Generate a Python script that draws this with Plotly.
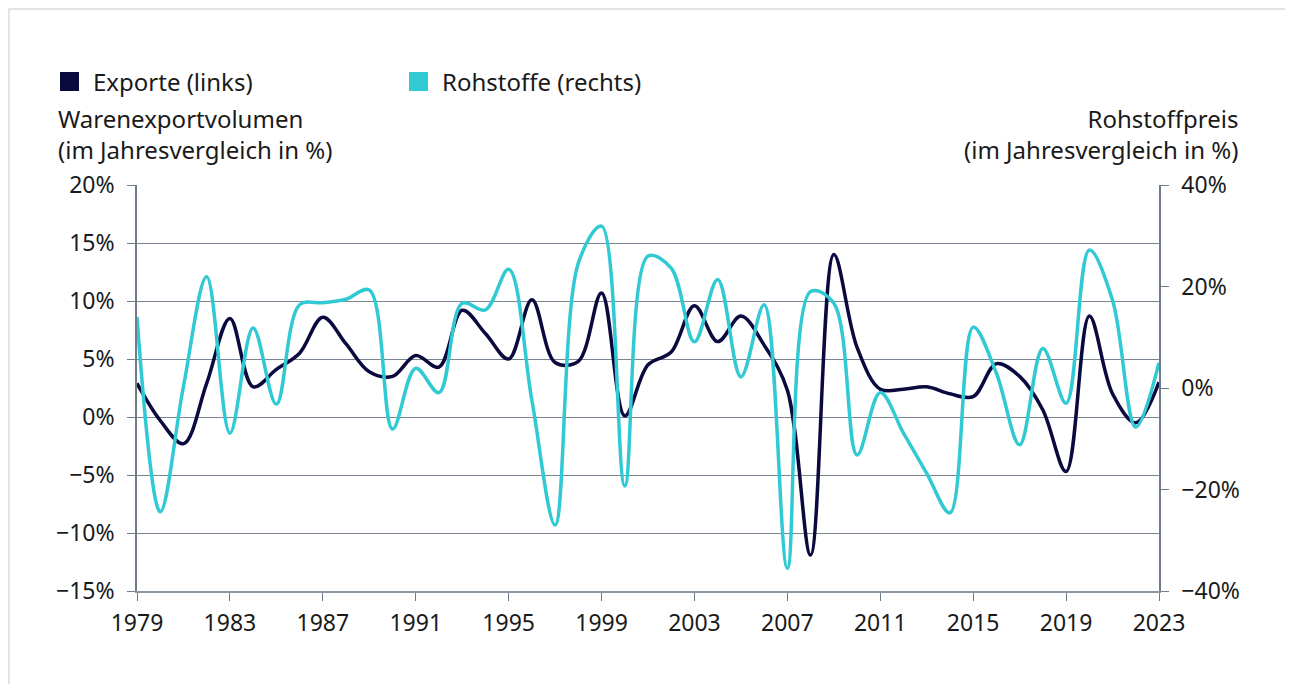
import plotly.graph_objects as go

years = list(range(1979, 2024))
exporte = [2.9, -0.3, -2.3, 2.9, 8.5, 2.6, 4.1, 5.5, 8.6, 6.3, 3.9, 3.5, 5.3, 4.3, 9.2, 7.2,
           5.0, 10.1, 4.7, 4.8, 10.7, 0.1, 4.5, 5.6, 9.6, 6.5, 8.7, 6.2, 2.3, -11.9, 14.0, 6.0,
           2.4, 2.4, 2.6, 2.0, 1.75, 4.6, 3.5, 0.6, -4.7, 8.7, 2.0, -0.5, 3.0]
rohstoffe = [14.0, -24.4, 0.3, 21.9, -8.9, 11.8, -3.2, 16.4, 16.8, 17.5, 19.3, -8.1, 3.9, -0.9, 16.7, 15.4,
             23.4, -2.4, -27.0, 24.6, 31.9, -19.3, 26.0, 23.6, 9.1, 21.4, 2.2, 16.4, -35.5, 19.0, 16.7, -13.2,
             -0.9, -8.9, -16.8, -24.6, 12.0, 2.9, -11.2, 7.8, -3.0, 27.2, 17.3, -7.7, 5.0]
x_ticks = list(range(1979, 2024, 4))
left_ticks = [-15, -10, -5, 0, 5, 10, 15, 20]
right_ticks = [-40, -20, 0, 20, 40]
series_names = ["Exporte (links)", "Rohstoffe (rechts)"]

def pct(v):
    return (f"\u2212{abs(v)}" if v < 0 else f"{v}") + "%"

DARK = "#0b0a3f"
CYAN = "#31c9d3"
FONT = "Noto Sans"
AXIS = "#6f7b87"
TXT = "#1a1a1a"
FS_TICK = 23
FS_TXT = 24

# page has an 8px body margin; size the figure so the plot lands where the reference has it
OFF = 8
W, H = 1293 - OFF, 684 - OFF
PL, PR, PT, PB = 137, 1159, 185, 591  # plot area in screen pixels
L = PL - OFF
T = PT - OFF
R = W - (PR - OFF)
B = H - (PB - OFF)
pw, ph = PR - PL, PB - PT

def px(xp):
    return (xp - PL) / pw

def py(yp):
    return (PB - yp) / ph

fig = go.Figure()
fig.add_trace(go.Scatter(x=years, y=exporte, mode="lines", name=series_names[0],
                         line=dict(color=DARK, width=3.5, shape="spline", smoothing=1.0),
                         showlegend=False, yaxis="y"))
fig.add_trace(go.Scatter(x=years, y=rohstoffe, mode="lines", name=series_names[1],
                         line=dict(color=CYAN, width=3.5, shape="spline", smoothing=1.0),
                         showlegend=False, yaxis="y2"))

shapes = [
    dict(type="rect", xref="paper", yref="paper", x0=px(9), x1=px(1287), y0=py(700), y1=py(9),
         line=dict(color="#d5dbe1", width=1.5), fillcolor="rgba(0,0,0,0)", layer="below"),
]
annotations = [
    dict(text="Warenexportvolumen<br>(im Jahresvergleich in %)", xref="paper", yref="paper",
         x=px(56), y=py(134), xanchor="left", yanchor="middle", align="left", showarrow=False,
         font=dict(family=FONT, size=FS_TXT, color=TXT)),
    dict(text="Rohstoffpreis<br>(im Jahresvergleich in %)", xref="paper", yref="paper",
         x=px(1240), y=py(134), xanchor="right", yanchor="middle", align="right", showarrow=False,
         font=dict(family=FONT, size=FS_TXT, color=TXT)),
]
# legend (square swatches + labels)
for name, col, sx in zip(series_names, [DARK, CYAN], [60, 409]):
    shapes.append(dict(type="rect", xref="paper", yref="paper", x0=px(sx), x1=px(sx + 19),
                       y0=py(91), y1=py(72), line=dict(width=0), fillcolor=col))
    annotations.append(dict(text=name, xref="paper", yref="paper", x=px(sx + 31), y=py(81),
                            xanchor="left", yanchor="middle", showarrow=False,
                            font=dict(family=FONT, size=FS_TXT, color=TXT)))

fig.update_layout(
    width=W, height=H,
    margin=dict(l=L, r=R, t=T, b=B, autoexpand=False),
    paper_bgcolor="white", plot_bgcolor="white",
    font=dict(family=FONT, size=FS_TICK, color=TXT),
    showlegend=False,
    xaxis=dict(range=[1979, 2023], tickmode="array", tickvals=x_ticks,
               ticktext=[str(v) for v in x_ticks], ticks="outside", ticklen=8,
               tickcolor=AXIS, showgrid=False, showline=True, linecolor="#8c96a0", linewidth=2,
               zeroline=False, tickfont=dict(size=FS_TICK), ticklabelstandoff=2),
    yaxis=dict(range=[-15, 20], tickmode="array", tickvals=left_ticks,
               ticktext=[pct(v) for v in left_ticks], ticks="outside", ticklen=8,
               tickcolor=AXIS, showgrid=True, gridcolor="#7a8591", gridwidth=1,
               showline=True, linecolor=AXIS, linewidth=1.5, zeroline=False,
               tickfont=dict(size=FS_TICK), ticklabelstandoff=8),
    yaxis2=dict(range=[-40, 40], tickmode="array", tickvals=right_ticks,
                ticktext=[pct(v) for v in right_ticks], overlaying="y", side="right",
                ticks="outside", ticklen=8, tickcolor=AXIS, showgrid=False, showline=True,
                linecolor=AXIS, linewidth=1.5, zeroline=False, tickfont=dict(size=FS_TICK),
                ticklabelstandoff=8),
    annotations=annotations,
    shapes=shapes,
)

fig.write_html("out.html")
